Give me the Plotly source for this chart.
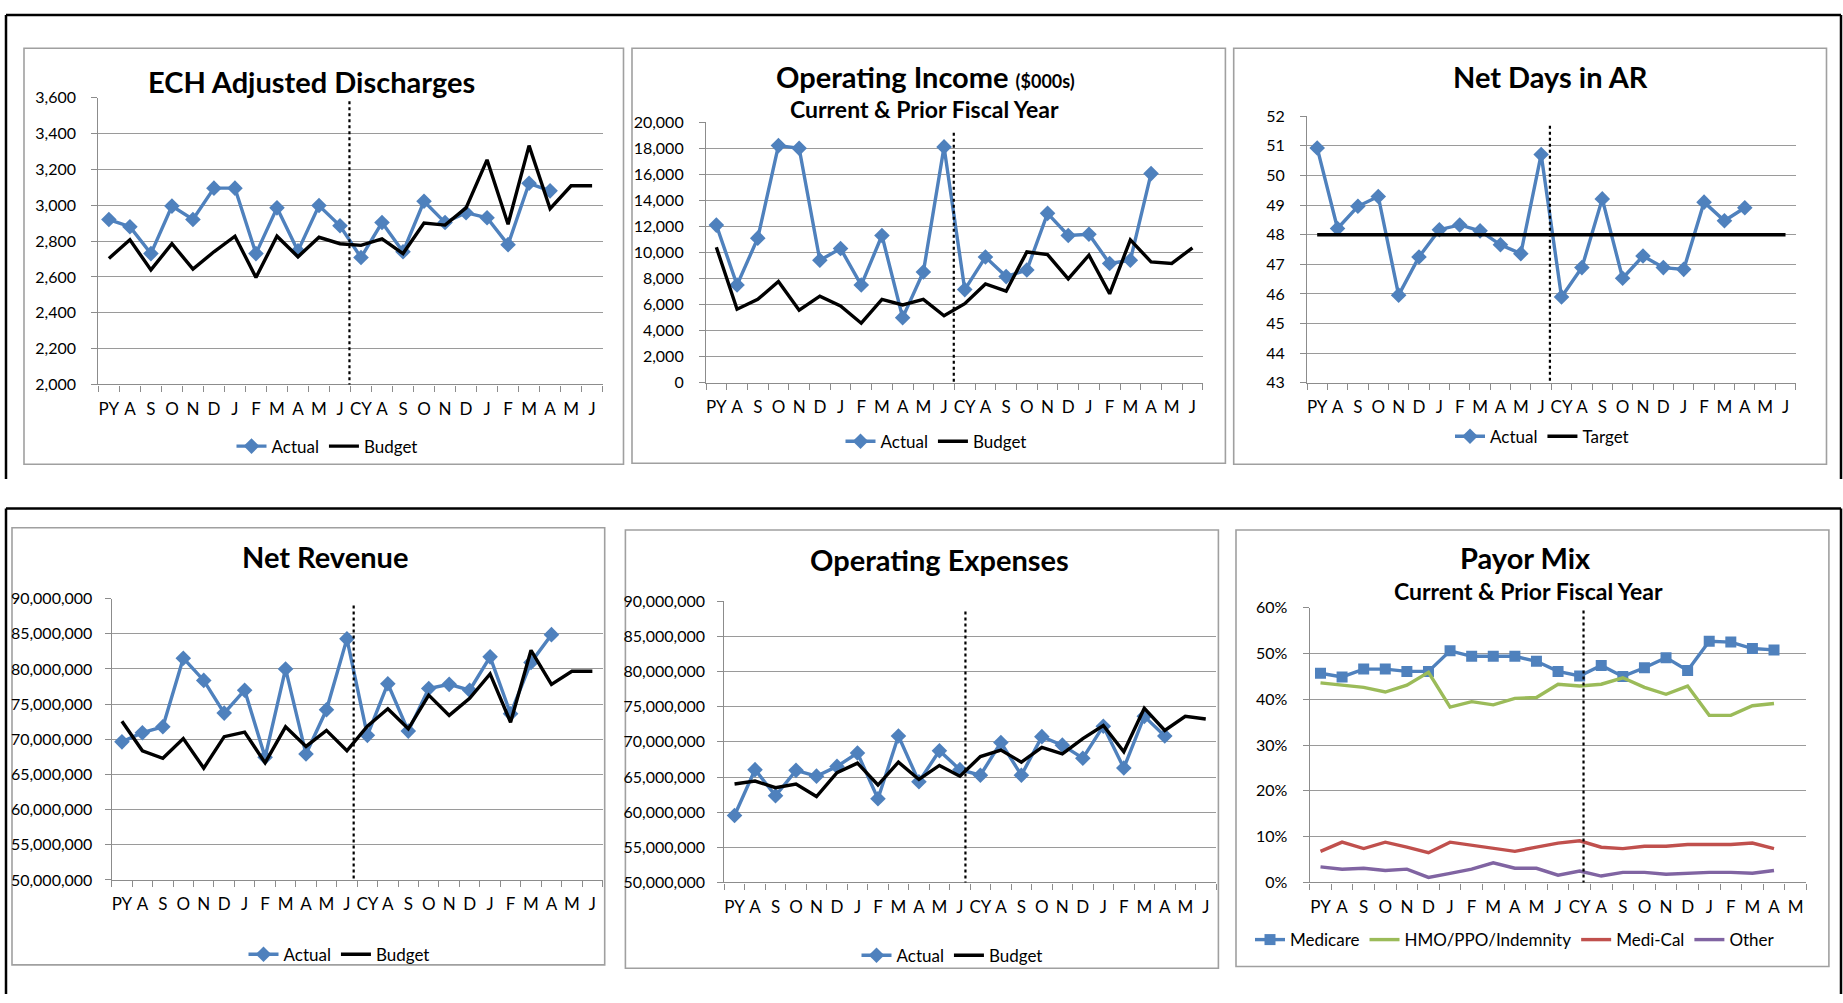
import plotly.graph_objects as go
import numpy as np

W, H = 1843, 1003

# ---------------- data ----------------
months24 = ["PY", "A", "S", "O", "N", "D", "J", "F", "M", "A", "M", "J",
            "CY", "A", "S", "O", "N", "D", "J", "F", "M", "A", "M", "J"]
months23 = months24[:23]

disch_actual = [2920, 2880, 2730, 2995, 2920, 3095, 3095, 2730, 2985, 2745, 2998, 2885,
                2708, 2903, 2740, 3022, 2903, 2958, 2930, 2780, 3122, 3080]
disch_budget = [2703, 2807, 2639, 2785, 2644, 2740, 2827, 2597, 2827, 2712, 2821, 2785,
                2776, 2812, 2730, 2900, 2889, 2985, 3253, 2894, 3332, 2980, 3108, 3108]

opinc_actual = [12100, 7500, 11100, 18200, 18000, 9400, 10300, 7500, 11300, 5000, 8500, 18100,
                7150, 9650, 8150, 8650, 13000, 11300, 11400, 9150, 9400, 16050]
opinc_budget = [10400, 5650, 6400, 7780, 5570, 6650, 5900, 4570, 6400, 5970, 6400, 5140,
                6070, 7580, 7030, 10040, 9840, 7980, 9790, 6830, 10970, 9280, 9160, 10360]

ar_actual = [50.93, 48.21, 48.96, 49.29, 45.96, 47.25, 48.17, 48.33, 48.13, 47.66, 47.36, 50.71,
             45.90, 46.89, 49.21, 46.53, 47.28, 46.89, 46.83, 49.10, 48.47, 48.91]
ar_target = [48, 48, 48, 48, 48, 48, 48, 48, 48, 48, 48, 48,
             48, 48, 48, 48, 48, 48, 48, 48, 48, 48, 48, 48]

# Net revenue / operating expenses in millions of dollars
rev_actual_m = [69.63, 70.93, 71.77, 81.53, 78.37, 73.72, 76.98, 67.44, 80.00, 67.90, 74.19, 84.28,
                70.56, 77.90, 71.16, 77.21, 77.81, 76.98, 81.72, 73.63, 80.93, 84.88]
rev_budget_m = [72.56, 68.37, 67.30, 70.09, 65.90, 70.37, 71.02, 66.65, 71.77, 68.98, 71.26, 68.37,
                71.86, 74.33, 71.49, 76.28, 73.40, 75.81, 79.30, 72.42, 82.65, 77.81, 79.67, 79.67]

exp_actual_m = [59.53, 66.05, 62.33, 65.95, 65.12, 66.51, 68.42, 61.91, 70.84, 64.33, 68.74, 66.05,
                65.26, 69.91, 65.26, 70.74, 69.53, 67.67, 72.23, 66.28, 73.63, 70.84]
exp_budget_m = [64.00, 64.42, 63.49, 64.00, 62.23, 65.63, 66.98, 63.86, 67.12, 64.65, 66.65, 65.12,
                67.91, 68.84, 67.12, 69.21, 68.28, 70.47, 72.33, 68.60, 74.79, 71.63, 73.63, 73.26]

# Payor mix, percent
pm_medicare = [45.7, 44.9, 46.6, 46.6, 46.1, 46.1, 50.6, 49.4, 49.4, 49.4, 48.3, 46.1,
               45.1, 47.4, 45.0, 46.9, 49.1, 46.3, 52.7, 52.5, 51.1, 50.8]
pm_hmo = [43.6, 43.1, 42.6, 41.6, 43.1, 45.9, 38.3, 39.5, 38.8, 40.2, 40.4, 43.3,
          42.9, 43.3, 44.7, 42.6, 41.1, 42.9, 36.5, 36.5, 38.6, 39.1]
pm_medical = [6.8, 8.8, 7.4, 8.8, 7.7, 6.5, 8.8, 8.1, 7.4, 6.8, 7.7, 8.6,
              9.1, 7.7, 7.4, 7.9, 7.9, 8.3, 8.3, 8.3, 8.6, 7.4]
pm_other = [3.4, 2.9, 3.1, 2.6, 2.9, 1.1, 2.0, 2.9, 4.3, 3.1, 3.1, 1.6,
            2.5, 1.4, 2.2, 2.2, 1.8, 2.0, 2.2, 2.2, 2.0, 2.6]

# ---------------- style ----------------
FONT = "Lato"
BLUE = "#4F81BD"
GREEN = "#9BBB59"
RED = "#C0504D"
PURPLE = "#8064A2"
GRID = "#9A9A9A"
AXIS = "#8C8C8C"
XTICK_SIZE = 17
YTICK_SIZE = 16
LEG_SIZE = 17

rev_actual = list(np.array(rev_actual_m) * 1e6)
rev_budget = list(np.array(rev_budget_m) * 1e6)
exp_actual = list(np.array(exp_actual_m) * 1e6)
exp_budget = list(np.array(exp_budget_m) * 1e6)


def px_x(v):
    return v / W


def px_y(v):
    return 1 - v / H


fig = go.Figure()
layout = dict(width=W, height=H, margin=dict(l=0, r=0, t=0, b=0),
              paper_bgcolor="white", plot_bgcolor="white", showlegend=True,
              font=dict(family=FONT, color="#000000"))
shapes = []
annotations = []

panels = [
    dict(n=1, x=(98.4, 602.6), y=(89.3, 381.7), rng=(2000, 3600), dtick=200, labels=months24,
         dashx=11.45, dashy=93, ystand=12),
    dict(n=2, x=(706, 1202.8), y=(114.3, 380), rng=(0, 20000), dtick=2000, labels=months24,
         dashx=11.47, dashy=125, ystand=12),
    dict(n=3, x=(1307, 1795.7), y=(108.3, 380), rng=(43, 52), dtick=1, labels=months24,
         dashx=11.43, dashy=118, ystand=12),
    dict(n=4, x=(111.7, 602.6), y=(600, 886.7), rng=(50e6, 90e6), dtick=5e6, labels=months24,
         dashx=11.33, dashy=607, ystand=9),
    dict(n=5, x=(724.3, 1216), y=(602.7, 889.3), rng=(50e6, 90e6), dtick=5e6, labels=months24,
         dashx=11.27, dashy=613, ystand=9),
    dict(n=6, x=(1309.7, 1806.4), y=(609.3, 889.3), rng=(0, 60), dtick=10, labels=months23,
         dashx=12.18, dashy=612, ystand=12),
]

for p in panels:
    n = p["n"]
    ncat = len(p["labels"])
    xs = "" if n == 1 else str(n)
    layout["xaxis" + xs] = dict(
        domain=[px_x(p["x"][0]), px_x(p["x"][1])], anchor="y" + xs,
        range=[-0.5, ncat - 0.5], tickmode="array", tickvals=list(range(ncat)),
        ticktext=p["labels"], ticks="", showgrid=False, zeroline=False,
        showline=True, linecolor=AXIS, linewidth=1.2,
        tickfont=dict(family=FONT, size=XTICK_SIZE, color="#000"), ticklabelstandoff=9,
        minor=dict(ticks="outside", tick0=-0.5, dtick=1, ticklen=6, tickcolor=AXIS,
                   tickwidth=1.2, showgrid=False),
        fixedrange=True)
    yfmt = ",d" if n != 6 else "d"
    layout["yaxis" + xs] = dict(
        domain=[px_y(p["y"][1]), px_y(p["y"][0])], anchor="x" + xs,
        range=list(p["rng"]), dtick=p["dtick"], tick0=p["rng"][0], tickformat=yfmt,
        ticksuffix="%" if n == 6 else "",
        showgrid=True, gridcolor=GRID, gridwidth=1.3, zeroline=False,
        showline=True, linecolor=AXIS, linewidth=1.2,
        ticks="outside", ticklen=6, tickcolor=AXIS, tickwidth=1.2,
        tickfont=dict(family=FONT, size=YTICK_SIZE, color="#000"),
        ticklabelstandoff=p["ystand"],
        fixedrange=True)
    shapes.append(dict(type="line", xref="x" + xs, yref="paper",
                       x0=p["dashx"], x1=p["dashx"],
                       y0=px_y(p["dashy"]), y1=px_y(p["y"][1]),
                       line=dict(color="black", width=2.2, dash="dot")))

# chart boxes
boxes = [(24, 39, 623.5, 463), (632, 39, 1225.4, 462), (1233.7, 39, 1826.5, 463),
         (12, 527.7, 604.7, 973.3), (625.4, 530, 1218.4, 976.7), (1236, 530, 1828.9, 975)]
for (x0, y0, x1, y1) in boxes:
    shapes.append(dict(type="rect", xref="paper", yref="paper",
                       x0=px_x(x0), x1=px_x(x1), y0=px_y(y1), y1=px_y(y0),
                       line=dict(color="#A0A0A0", width=1.6), layer="below"))

# outer black frames
frame_lines = [
    (6, 5, 1841, 5), (6, 5, 6, 478), (1841, 5, 1841, 478),
    (6, 508, 1841, 508), (6, 508, 6, 1003), (1841, 508, 1841, 1003),
]
for (x0, y0, x1, y1) in frame_lines:
    shapes.append(dict(type="line", xref="paper", yref="paper",
                       x0=px_x(x0), x1=px_x(x1), y0=px_y(y0), y1=px_y(y1),
                       line=dict(color="black", width=2.5)))

# titles
titles = [
    ("<b>ECH Adjusted Discharges</b>", 311, 73, 29),
    ("<b>Operating Income <span style='font-size:18px'>($000s)</span></b>", 925, 68, 29),
    ("<b>Current &amp; Prior Fiscal Year</b>", 924, 101, 23),
    ("<b>Net Days in AR</b>", 1550, 68, 29),
    ("<b>Net Revenue</b>", 325, 557, 29),
    ("<b>Operating Expenses</b>", 939, 560, 29),
    ("<b>Payor Mix</b>", 1525, 558, 29),
    ("<b>Current &amp; Prior Fiscal Year</b>", 1528, 592, 23),
]
for (t, x, y, s) in titles:
    annotations.append(dict(text=t, xref="paper", yref="paper", x=px_x(x), y=px_y(y),
                            xanchor="center", yanchor="middle", showarrow=False,
                            font=dict(family=FONT, size=s, color="black")))

# legends
legend_pos = {1: (327, 445), 2: (936, 440), 3: (1542, 435), 4: (339, 963),
              5: (952, 964), 6: (1515, 948)}
for n, (lx, ly) in legend_pos.items():
    key = "legend" if n == 1 else "legend%d" % n
    layout[key] = dict(x=px_x(lx), y=px_y(ly), xanchor="center", yanchor="middle",
                       orientation="h", bgcolor="rgba(0,0,0,0)", itemwidth=30,
                       font=dict(family=FONT, size=LEG_SIZE, color="#000"),
                       tracegroupgap=0, itemclick=False, itemdoubleclick=False)


def leg(n):
    return "legend" if n == 1 else "legend%d" % n


def ax(n):
    s = "" if n == 1 else str(n)
    return "x" + s, "y" + s


def actual_trace(vals, n, name="Actual"):
    xa, ya = ax(n)
    return go.Scatter(x=list(range(len(vals))), y=vals, name=name, mode="lines+markers",
                      line=dict(color=BLUE, width=3.4),
                      marker=dict(symbol="diamond", size=12, color=BLUE),
                      xaxis=xa, yaxis=ya, legend=leg(n), hoverinfo="skip")


def black_trace(vals, n, name="Budget"):
    xa, ya = ax(n)
    return go.Scatter(x=list(range(len(vals))), y=vals, name=name, mode="lines",
                      line=dict(color="black", width=3.4),
                      xaxis=xa, yaxis=ya, legend=leg(n), hoverinfo="skip")


fig.add_trace(actual_trace(disch_actual, 1))
fig.add_trace(black_trace(disch_budget, 1))
fig.add_trace(actual_trace(opinc_actual, 2))
fig.add_trace(black_trace(opinc_budget, 2))
fig.add_trace(actual_trace(ar_actual, 3))
fig.add_trace(black_trace(ar_target, 3, "Target"))
fig.add_trace(actual_trace(rev_actual, 4))
fig.add_trace(black_trace(rev_budget, 4))
fig.add_trace(actual_trace(exp_actual, 5))
fig.add_trace(black_trace(exp_budget, 5))

xa6, ya6 = ax(6)
fig.add_trace(go.Scatter(x=list(range(len(pm_medicare))), y=pm_medicare, name="Medicare",
                         mode="lines+markers", line=dict(color=BLUE, width=3.4),
                         marker=dict(symbol="square", size=11, color=BLUE),
                         xaxis=xa6, yaxis=ya6, legend=leg(6), hoverinfo="skip"))
fig.add_trace(go.Scatter(x=list(range(len(pm_hmo))), y=pm_hmo, name="HMO/PPO/Indemnity",
                         mode="lines", line=dict(color=GREEN, width=3.4),
                         xaxis=xa6, yaxis=ya6, legend=leg(6), hoverinfo="skip"))
fig.add_trace(go.Scatter(x=list(range(len(pm_medical))), y=pm_medical, name="Medi-Cal",
                         mode="lines", line=dict(color=RED, width=3.4),
                         xaxis=xa6, yaxis=ya6, legend=leg(6), hoverinfo="skip"))
fig.add_trace(go.Scatter(x=list(range(len(pm_other))), y=pm_other, name="Other",
                         mode="lines", line=dict(color=PURPLE, width=3.4),
                         xaxis=xa6, yaxis=ya6, legend=leg(6), hoverinfo="skip"))

layout["shapes"] = shapes
layout["annotations"] = annotations
fig.update_layout(**layout)

page_fix = ("document.body.style.margin='0px';document.body.style.padding='0px';"
            "document.body.style.overflow='hidden';"
            "document.documentElement.style.overflow='hidden';")
fig.write_html("out.html", config={"displayModeBar": False}, post_script=page_fix)
